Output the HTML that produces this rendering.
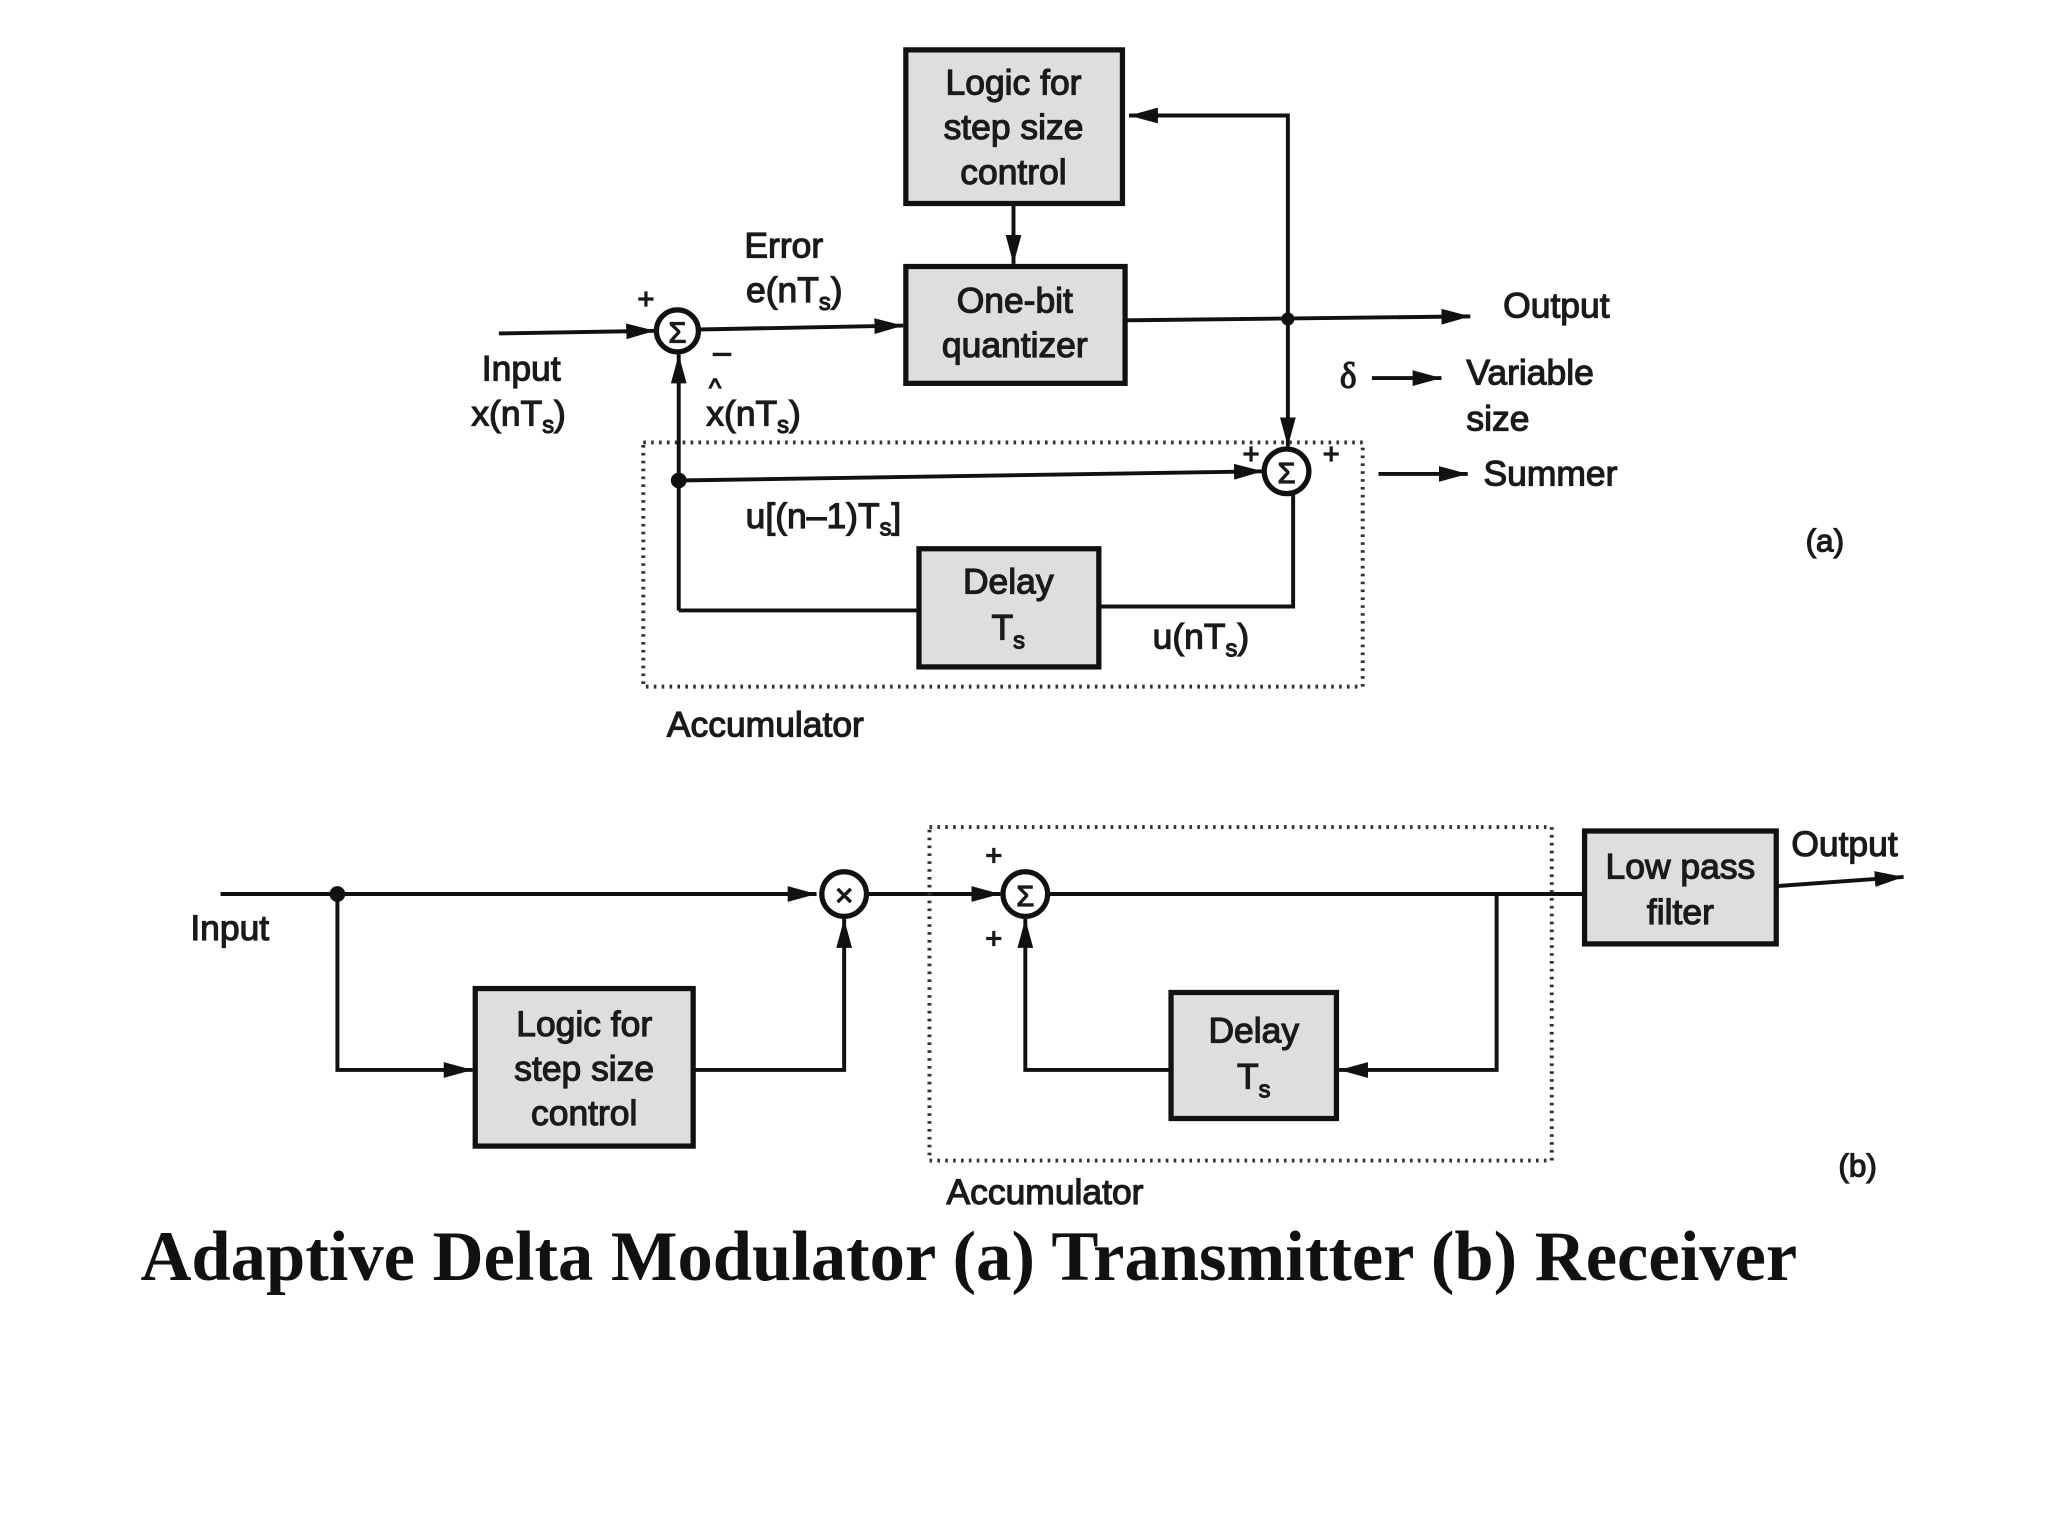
<!DOCTYPE html>
<html><head><meta charset="utf-8"><style>
html,body{margin:0;padding:0;background:#fff;width:2048px;height:1536px;overflow:hidden}
svg{display:block}
text{font-family:"Liberation Sans",sans-serif;font-size:27px;fill:#1a1a1a;stroke:#1a1a1a;stroke-width:0.9}
.c{text-anchor:middle}
.box{fill:#dedede;stroke:#111;stroke-width:4}
.ln{stroke:#111;stroke-width:3;fill:none}
.dot{stroke:#333;stroke-width:3;stroke-dasharray:2 4;fill:none}
.s{font-size:18px}
</style></head><body>
<svg width="2048" height="1536" viewBox="0 0 1560 1170" xmlns="http://www.w3.org/2000/svg">
<defs>
<marker id="b" viewBox="0 0 10 10" refX="10" refY="5" markerWidth="22" markerHeight="12" markerUnits="userSpaceOnUse" orient="auto" preserveAspectRatio="none"><path d="M0,0L10,5L0,10z" fill="#111"/></marker></defs>

<!-- (a) Transmitter -->
<rect class="box" x="690" y="38" width="165" height="117"/>
<text class="c" x="772" y="72">Logic for</text>
<text class="c" x="772" y="106">step size</text>
<text class="c" x="772" y="140">control</text>
<line class="ln" x1="772" y1="155" x2="772" y2="201" marker-end="url(#b)"/>
<rect class="box" x="690" y="203" width="167" height="89"/>
<text class="c" x="773" y="238">One-bit</text>
<text class="c" x="773" y="272">quantizer</text>

<circle cx="516" cy="252" r="16" fill="#fff" stroke="#111" stroke-width="4"/>
<text class="c" x="516" y="261" style="font-size:22px">Σ</text>
<line class="ln" x1="380" y1="254" x2="499" y2="252" marker-end="url(#b)"/>
<text class="c" x="492" y="235" style="font-size:22px">+</text>
<text class="c" x="550" y="276" style="font-size:24px">–</text>
<text class="c" x="597" y="196">Error</text>
<text class="c" x="605" y="230">e(nT<tspan class="s" dy="6">s</tspan><tspan dy="-6">)</tspan></text>
<line class="ln" x1="532" y1="251" x2="688" y2="248" marker-end="url(#b)"/>
<text class="c" x="397" y="290">Input</text>
<text class="c" x="395" y="324">x(nT<tspan class="s" dy="6">s</tspan><tspan dy="-6">)</tspan></text>
<text x="540" y="302" style="font-size:20px">^</text>
<text x="538" y="324">x(nT<tspan class="s" dy="6">s</tspan><tspan dy="-6">)</tspan></text>

<line class="ln" x1="857" y1="244" x2="1120" y2="241" marker-end="url(#b)"/>
<circle cx="981" cy="243" r="5" fill="#111"/>
<polyline class="ln" points="981,243 981,88 860,88" marker-end="url(#b)"/>
<line class="ln" x1="981" y1="243" x2="981" y2="340" marker-end="url(#b)"/>
<text x="1145" y="242">Output</text>
<text class="c" x="1027" y="295" style="font-family:'Liberation Serif',serif">δ</text>
<line class="ln" x1="1045" y1="288" x2="1098" y2="288" marker-end="url(#b)"/>
<text x="1117" y="293">Variable</text>
<text x="1117" y="328">size</text>
<line class="ln" x1="1050" y1="361" x2="1118" y2="361" marker-end="url(#b)"/>
<text x="1130" y="370">Summer</text>

<rect class="dot" x="490" y="337" width="548" height="186"/>
<circle cx="980" cy="359" r="17" fill="#fff" stroke="#111" stroke-width="4"/>
<text class="c" x="980" y="368" style="font-size:22px">Σ</text>
<text class="c" x="953" y="353" style="font-size:22px">+</text>
<text class="c" x="1014" y="353" style="font-size:22px">+</text>
<circle cx="517" cy="366" r="6" fill="#111"/>
<line class="ln" x1="517" y1="366" x2="962" y2="359" marker-end="url(#b)"/>
<line class="ln" x1="517" y1="465" x2="517" y2="270" marker-end="url(#b)"/>
<text x="568" y="402">u[(n–1)T<tspan class="s" dy="6">s</tspan><tspan dy="-6">]</tspan></text>
<rect class="box" x="700" y="418" width="137" height="90"/>
<text class="c" x="768" y="452">Delay</text>
<text class="c" x="768" y="487">T<tspan class="s" dy="7">s</tspan></text>
<polyline class="ln" points="517,465 700,465"/>
<polyline class="ln" points="837,462 985,462 985,377"/>
<text x="878" y="494">u(nT<tspan class="s" dy="6">s</tspan><tspan dy="-6">)</tspan></text>
<text class="c" x="1390" y="420" style="font-size:24px">(a)</text>
<text class="c" x="583" y="561">Accumulator</text>

<!-- (b) Receiver -->
<text class="c" x="175" y="716">Input</text>
<line class="ln" x1="168" y1="681" x2="622" y2="681" marker-end="url(#b)"/>
<circle cx="257" cy="681" r="6" fill="#111"/>
<polyline class="ln" points="257,681 257,815 360,815" marker-end="url(#b)"/>
<circle cx="643" cy="681" r="17" fill="#fff" stroke="#111" stroke-width="4"/>
<text class="c" x="643" y="690" style="font-size:24px">×</text>
<rect class="box" x="362" y="753" width="166" height="120"/>
<text class="c" x="445" y="789">Logic for</text>
<text class="c" x="445" y="823">step size</text>
<text class="c" x="445" y="857">control</text>
<polyline class="ln" points="528,815 643,815 643,700" marker-end="url(#b)"/>
<line class="ln" x1="660" y1="681" x2="762" y2="681" marker-end="url(#b)"/>
<rect class="dot" x="708" y="630" width="474" height="254"/>
<circle cx="781" cy="681" r="17" fill="#fff" stroke="#111" stroke-width="4"/>
<text class="c" x="781" y="690" style="font-size:22px">Σ</text>
<text class="c" x="757" y="659" style="font-size:22px">+</text>
<text class="c" x="757" y="722" style="font-size:22px">+</text>
<line class="ln" x1="798" y1="681" x2="1207" y2="681"/>
<polyline class="ln" points="1140,681 1140,815 1020,815" marker-end="url(#b)"/>
<rect class="box" x="892" y="756" width="126" height="96"/>
<text class="c" x="955" y="794">Delay</text>
<text class="c" x="955" y="829">T<tspan class="s" dy="7">s</tspan></text>
<polyline class="ln" points="892,815 781,815 781,700" marker-end="url(#b)"/>
<rect class="box" x="1207" y="633" width="146" height="86"/>
<text class="c" x="1280" y="669">Low pass</text>
<text class="c" x="1280" y="704">filter</text>
<line class="ln" x1="1353" y1="675" x2="1450" y2="668" marker-end="url(#b)"/>
<text class="c" x="1405" y="652">Output</text>
<text class="c" x="1415" y="896" style="font-size:24px">(b)</text>
<text class="c" x="796" y="917">Accumulator</text>

<text x="107" y="975" textLength="1262" lengthAdjust="spacingAndGlyphs" style="font-family:'Liberation Serif',serif;font-weight:bold;font-size:54px;fill:#111;stroke:none">Adaptive Delta Modulator (a) Transmitter (b) Receiver</text>
</svg>
</body></html>
